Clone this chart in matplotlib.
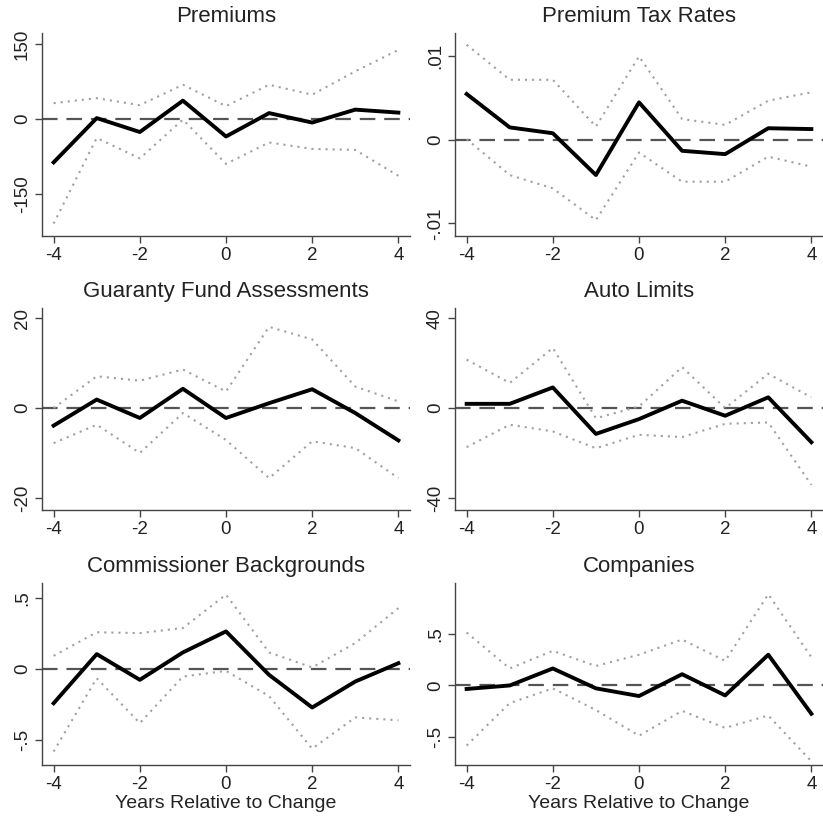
#!/usr/bin/env python3
"""Event-study panels: point estimates with confidence bands."""

import matplotlib

matplotlib.use("Agg")
import matplotlib.pyplot as plt

plt.rcParams["font.family"] = ["Liberation Sans", "DejaVu Sans"]

years = [-4, -3, -2, -1, 0, 1, 2, 3, 4]

titles = [
    "Premiums",
    "Premium Tax Rates",
    "Guaranty Fund Assessments",
    "Auto Limits",
    "Commissioner Backgrounds",
    "Companies",
]

premiums_est = [-87, 2, -26, 37, -35, 12, -7, 19, 13]
premiums_hi = [32, 42, 28, 69, 26, 69, 49, 96, 139]
premiums_lo = [-210, -38, -79, -1, -90, -47, -60, -62, -114]

taxrate_est = [0.0055, 0.0015, 0.0008, -0.0042, 0.0045, -0.0013, -0.0017, 0.0014, 0.0013]
taxrate_hi = [0.0114, 0.0072, 0.0072, 0.0016, 0.0100, 0.0025, 0.0018, 0.0047, 0.0057]
taxrate_lo = [0.0001, -0.0042, -0.0058, -0.0096, -0.0015, -0.0050, -0.0050, -0.0020, -0.0032]

guaranty_est = [-3.9, 1.9, -2.2, 4.3, -2.2, 1.1, 4.2, -1.1, -7.2]
guaranty_hi = [0.0, 7.1, 6.1, 8.6, 3.7, 18.1, 15.3, 4.8, 1.5]
guaranty_lo = [-7.8, -3.7, -10.0, -1.1, -7.1, -15.6, -7.4, -8.9, -15.6]

auto_est = [1.9, 1.9, 9.2, -11.5, -4.9, 3.3, -3.4, 4.8, -15.2]
auto_hi = [21.6, 11.2, 26.8, -4.5, 0.7, 18.3, 0.0, 15.3, 4.8]
auto_lo = [-17.4, -7.4, -10.4, -17.9, -11.9, -12.9, -7.0, -6.4, -34.2]

comm_est = [-0.24, 0.106, -0.075, 0.118, 0.266, -0.04, -0.27, -0.087, 0.042]
comm_hi = [0.094, 0.26, 0.254, 0.29, 0.525, 0.118, 0.012, 0.184, 0.43]
comm_lo = [-0.58, -0.064, -0.38, -0.052, -0.012, -0.19, -0.56, -0.34, -0.36]

comp_est = [-0.034, 0.0, 0.166, -0.028, -0.103, 0.11, -0.097, 0.30, -0.276]
comp_hi = [0.517, 0.166, 0.338, 0.19, 0.30, 0.448, 0.24, 0.89, 0.276]
comp_lo = [-0.586, -0.172, -0.028, -0.24, -0.49, -0.248, -0.414, -0.293, -0.74]

ytick_vals = [
    [-150, 0, 150],
    [-0.01, 0, 0.01],
    [-20, 0, 20],
    [-40, 0, 40],
    [-0.5, 0, 0.5],
    [-0.5, 0, 0.5],
]
ytick_labels = [
    ["-150", "0", "150"],
    ["-.01", "0", ".01"],
    ["-20", "0", "20"],
    ["-40", "0", "40"],
    ["-.5", "0", ".5"],
    ["-.5", "0", ".5"],
]
ylims = [
    (-235, 173),
    (-0.0115, 0.0128),
    (-22.7, 22.3),
    (-45.4, 44.6),
    (-0.675, 0.607),
    (-0.776, 1.0),
]

series = [
    (premiums_est, premiums_hi, premiums_lo),
    (taxrate_est, taxrate_hi, taxrate_lo),
    (guaranty_est, guaranty_hi, guaranty_lo),
    (auto_est, auto_hi, auto_lo),
    (comm_est, comm_hi, comm_lo),
    (comp_est, comp_hi, comp_lo),
]

W, H = 823, 822
lefts = [42, 455]
rows = [(33, 236), (308, 510), (583, 765)]
AXW = 368

fig = plt.figure(figsize=(W / 100, H / 100), dpi=100)

for i, (est, hi, lo) in enumerate(series):
    r, c = divmod(i, 2)
    top, bot = rows[r]
    ax = fig.add_axes([lefts[c] / W, 1 - bot / H, AXW / W, (bot - top) / H])
    ax.axhline(0, color="#555555", lw=1.6, ls=(0, (7, 4)), zorder=1)
    ax.plot(years, hi, color="#a0a0a0", lw=1.5, ls=(0, (1, 2.4)), zorder=2)
    ax.plot(years, lo, color="#a0a0a0", lw=1.5, ls=(0, (1, 2.4)), zorder=2)
    ax.plot(years, est, color="black", lw=2.8, zorder=3)
    ax.set_xlim(-4.27, 4.27)
    ax.set_ylim(*ylims[i])
    ax.set_xticks([-4, -2, 0, 2, 4])
    ax.set_xticklabels(["-4", "-2", "0", "2", "4"], fontsize=13.5, color="#222222")
    ax.set_yticks(ytick_vals[i])
    ax.set_yticklabels(ytick_labels[i], fontsize=13.5, rotation=90, va="center", color="#222222")
    for side in ["top", "right"]:
        ax.spines[side].set_visible(False)
    for side in ["left", "bottom"]:
        ax.spines[side].set_color("#444444")
        ax.spines[side].set_linewidth(1.0)
    ax.tick_params(direction="out", length=5, width=1.0, color="#444444", pad=3)
    ax.set_title(titles[i], fontsize=16, color="#222222", pad=8)
    if r == 2:
        ax.set_xlabel("Years Relative to Change", fontsize=14, color="#222222", labelpad=1)

fig.savefig("out.png", dpi=100)
